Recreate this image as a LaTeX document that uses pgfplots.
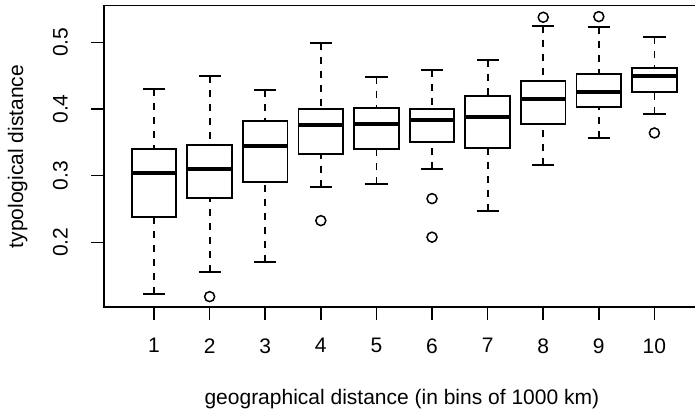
\documentclass[border=0pt]{standalone}
\usepackage{fontspec}
\setmainfont{Liberation Sans}
\usepackage{pgfplots}
\pgfplotsset{compat=1.18}
\usepgfplotslibrary{statistics}

% R style whiskers: dashed stem, solid staple
\pgfplotsset{
  boxplot/draw/lower whisker/.code={%
    \draw[dash pattern=on 7pt off 7pt]
      (boxplot box cs:\pgfplotsboxplotvalue{lower whisker},0.5) --
      (boxplot box cs:\pgfplotsboxplotvalue{lower quartile},0.5);
    \draw (boxplot whisker cs:\pgfplotsboxplotvalue{lower whisker},0) --
      (boxplot whisker cs:\pgfplotsboxplotvalue{lower whisker},1);
  },
  boxplot/draw/upper whisker/.code={%
    \draw[dash pattern=on 7pt off 7pt]
      (boxplot box cs:\pgfplotsboxplotvalue{upper whisker},0.5) --
      (boxplot box cs:\pgfplotsboxplotvalue{upper quartile},0.5);
    \draw (boxplot whisker cs:\pgfplotsboxplotvalue{upper whisker},0) --
      (boxplot whisker cs:\pgfplotsboxplotvalue{upper whisker},1);
  },
  rbox/.style={black, solid, line width=1.8pt, mark=o, mark size=5pt,
    mark options={solid, line width=1.5pt},
    boxplot/every median/.style={line width=4.3pt}},
}

\begin{document}
\fontsize{21pt}{25pt}\selectfont
\begin{tikzpicture}
\useasboundingbox (0,0) rectangle (695pt,413pt);
\begin{axis}[
  at={(104pt,105.7pt)}, anchor=south west,
  scale only axis, width=592.1pt, height=301.7pt,
  xmin=0.1, xmax=10.75, ymin=0.1025, ymax=0.555,
  xtick={1,2,3,4,5,6,7,8,9,10},
  xticklabels={1,2,3,4,5,6,7,8,9,10},
  ytick={0.2,0.3,0.4,0.5},
  yticklabels={0.2,0.3,0.4,0.5},
  tick align=outside, major tick length=13pt,
  xtick pos=bottom, ytick pos=left,
  every tick/.style={black, line width=1.5pt},
  axis line style={line width=1.7pt},
  ticklabel style={font=\fontsize{21pt}{25pt}\selectfont, inner sep=0pt},
  xticklabel style={anchor=north, yshift=-18pt},
  yticklabel style={xshift=-23pt, rotate=90, anchor=south},
  label style={font=\fontsize{21pt}{25pt}\selectfont, inner sep=0pt},
  xlabel={geographical distance (in bins of 1000 km)},
  xlabel style={at={(axis description cs:0.503,-0.3236)}, anchor=base},
  ylabel={typological distance},
  ylabel style={at={(axis description cs:-0.1368,0.5)}, anchor=base},
  boxplot/draw direction=y,
  boxplot/box extend=0.8, boxplot/whisker extend=0.4,
]
\addplot[rbox, boxplot prepared={draw position=1, lower whisker=0.1225,
  lower quartile=0.2385, median=0.3035, upper quartile=0.340, upper whisker=0.4295}]
  coordinates {};
\addplot[rbox, boxplot prepared={draw position=2, lower whisker=0.156,
  lower quartile=0.2665, median=0.3095, upper quartile=0.3465, upper whisker=0.4495}]
  coordinates {(2,0.1185)};
\addplot[rbox, boxplot prepared={draw position=3, lower whisker=0.1705,
  lower quartile=0.290, median=0.344, upper quartile=0.382, upper whisker=0.428}]
  coordinates {};
\addplot[rbox, boxplot prepared={draw position=4, lower whisker=0.2825,
  lower quartile=0.333, median=0.3755, upper quartile=0.400, upper whisker=0.499}]
  coordinates {(4,0.2325)};
\addplot[rbox, boxplot prepared={draw position=5, lower whisker=0.287,
  lower quartile=0.3395, median=0.377, upper quartile=0.402, upper whisker=0.4485}]
  coordinates {};
\addplot[rbox, boxplot prepared={draw position=6, lower whisker=0.3095,
  lower quartile=0.351, median=0.383, upper quartile=0.4005, upper whisker=0.4585}]
  coordinates {(6,0.2655) (6,0.2077)};
\addplot[rbox, boxplot prepared={draw position=7, lower whisker=0.2475,
  lower quartile=0.342, median=0.3875, upper quartile=0.419, upper whisker=0.473}]
  coordinates {};
\addplot[rbox, boxplot prepared={draw position=8, lower whisker=0.3155,
  lower quartile=0.3775, median=0.4145, upper quartile=0.4415, upper whisker=0.525}]
  coordinates {(8,0.5375)};
\addplot[rbox, boxplot prepared={draw position=9, lower whisker=0.357,
  lower quartile=0.4035, median=0.425, upper quartile=0.4525, upper whisker=0.5235}]
  coordinates {(9,0.5385)};
\addplot[rbox, boxplot prepared={draw position=10, lower whisker=0.3925,
  lower quartile=0.4255, median=0.449, upper quartile=0.461, upper whisker=0.508}]
  coordinates {(10,0.364)};
\end{axis}
\end{tikzpicture}
\end{document}
